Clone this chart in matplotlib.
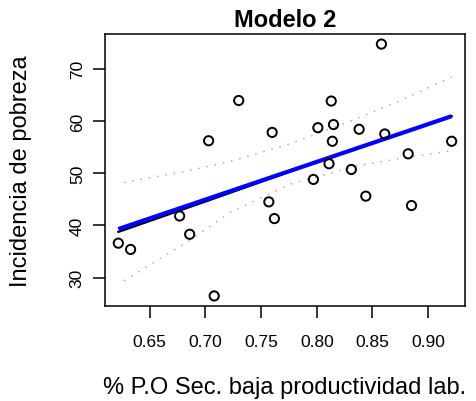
import numpy as np
import matplotlib
matplotlib.use("Agg")
import matplotlib.pyplot as plt

plt.rcParams['font.family'] = ['Liberation Sans', 'DejaVu Sans']

# Observations: share of workers in low-productivity sectors vs. poverty incidence
prod_share = [0.622, 0.633, 0.677, 0.686, 0.703, 0.708, 0.730, 0.757,
              0.760, 0.762, 0.797, 0.801, 0.811, 0.813, 0.815, 0.814,
              0.831, 0.838, 0.844, 0.858, 0.861, 0.882, 0.885, 0.921]
poverty = [36.6, 35.4, 41.8, 38.3, 56.2, 26.5, 63.9, 44.5,
           57.8, 41.3, 48.8, 58.7, 51.8, 63.8, 59.3, 56.1,
           50.7, 58.4, 45.6, 74.7, 57.5, 53.7, 43.8, 56.1]

# Fitted regression line (blue) at the ends of the data range
fit_x = [0.622, 0.921]
fit_y = [39.3, 60.9]

# Smoother (solid black) and conditional spread band (dotted grey)
smooth_x = [0.622, 0.700, 0.780, 0.860, 0.921]
smooth_y = [38.75, 44.55, 50.6, 56.5, 60.9]
upper_x = [0.627, 0.6855, 0.7255, 0.7760, 0.8284, 0.8750, 0.921]
upper_y = [48.2, 50.5, 52.4, 55.6, 59.8, 63.9, 68.4]
lower_x = [0.627, 0.6852, 0.7225, 0.7762, 0.836, 0.880, 0.921]
lower_y = [29.4, 37.0, 42.5, 47.9, 51.4, 53.0, 54.3]

x_ticks = [0.65, 0.70, 0.75, 0.80, 0.85, 0.90]
y_ticks = [30, 40, 50, 60, 70]

fig = plt.figure(figsize=(4.77, 4.02), dpi=100)
ax = fig.add_axes([0.2201, 0.2363, 0.7547, 0.6766])

x = np.asarray(prod_share)
y = np.asarray(poverty)

ax.plot(upper_x, upper_y, color='#b0b0b0', lw=1.1, ls=(0, (1, 4.5)), zorder=1)
ax.plot(lower_x, lower_y, color='#b0b0b0', lw=1.1, ls=(0, (1, 4.5)), zorder=1)
ax.plot(smooth_x, smooth_y, color='black', lw=1.6, zorder=2)
ax.plot(fit_x, fit_y, color='#0000ff', lw=3.0, solid_capstyle='butt', zorder=3)
ax.scatter(x, y, s=44, facecolors='none', edgecolors='black', linewidths=1.4, zorder=4)

# R-style 4% padding around the data range
xr = x.max() - x.min()
yr = y.max() - y.min()
ax.set_xlim(x.min() - 0.04 * xr, x.max() + 0.04 * xr)
ax.set_ylim(y.min() - 0.04 * yr, y.max() + 0.04 * yr)

ax.set_xticks(x_ticks)
ax.set_xticklabels([f"{v:.2f}" for v in x_ticks])
ax.set_yticks(y_ticks)
ax.set_yticklabels([str(v) for v in y_ticks], rotation=90, va='center')

ax.tick_params(axis='both', direction='out', length=8.5, width=1.1,
               labelsize=12.5, colors='black')
ax.tick_params(axis='x', pad=12)
ax.tick_params(axis='y', pad=6)
for sp in ax.spines.values():
    sp.set_linewidth(1.1)

ax.set_title("Modelo 2", fontsize=17, fontweight='bold', pad=6)
ax.set_xlabel("% P.O Sec. baja productividad lab.", fontsize=17, labelpad=19)
ax.set_ylabel("Incidencia de pobreza", fontsize=17, labelpad=27)

fig.savefig("out.png", dpi=100)
